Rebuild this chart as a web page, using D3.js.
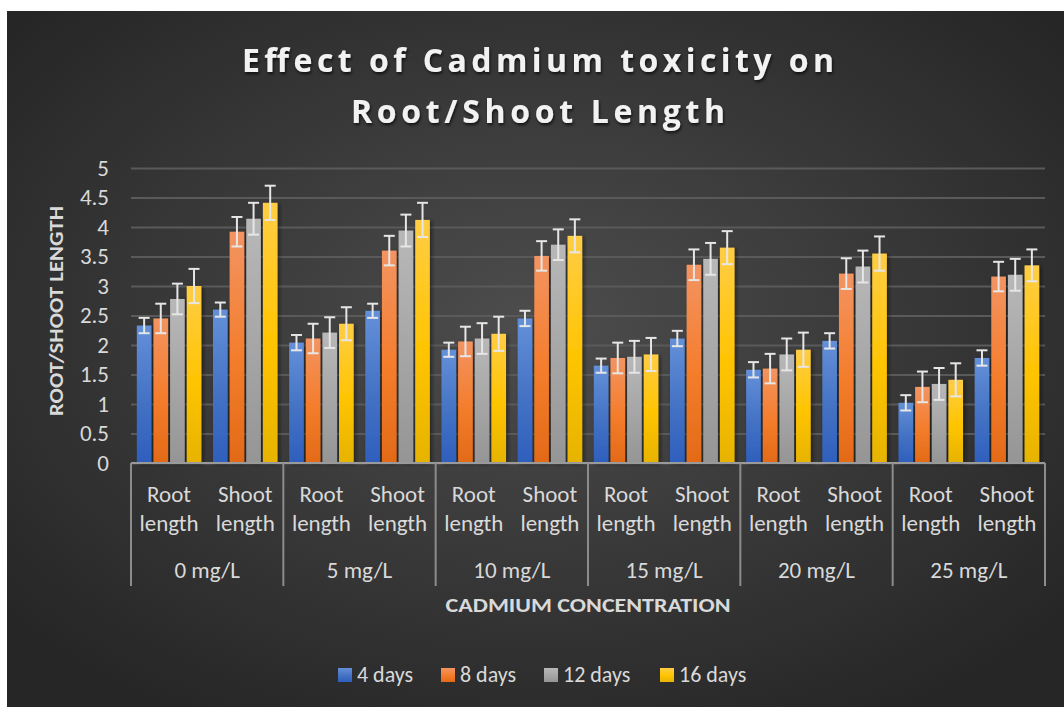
<!DOCTYPE html>
<html>
<head>
<meta charset="utf-8">
<script src="https://cdn.jsdelivr.net/npm/d3@7"></script>
<style>
  html, body { margin: 0; padding: 0; background: #ffffff; }
  svg { display: block; }
</style>
</head>
<body>
<svg id="chart"></svg>
<script>
// ---- data ----
const concentrations = ['0 mg/L', '5 mg/L', '10 mg/L', '15 mg/L', '20 mg/L', '25 mg/L']
const parts = ['Root length', 'Shoot length']
const seriesNames = ['4 days', '8 days', '12 days', '16 days']
const yTicks = [0, 0.5, 1, 1.5, 2, 2.5, 3, 3.5, 4, 4.5, 5]

// order: 0 root, 0 shoot, 5 root, 5 shoot, ...
const days4 = [2.33, 2.60, 2.04, 2.58, 1.92, 2.45, 1.65, 2.11, 1.58, 2.07, 1.02, 1.78]
const days8 = [2.45, 3.92, 2.11, 3.60, 2.06, 3.51, 1.78, 3.36, 1.60, 3.21, 1.29, 3.16]
const days12 = [2.78, 4.14, 2.21, 3.94, 2.11, 3.70, 1.80, 3.46, 1.84, 3.33, 1.34, 3.19]
const days16 = [3.00, 4.41, 2.36, 4.12, 2.19, 3.85, 1.84, 3.65, 1.92, 3.55, 1.41, 3.35]

const err4 = [0.13, 0.12, 0.13, 0.12, 0.12, 0.13, 0.12, 0.13, 0.13, 0.13, 0.13, 0.13]
const err8 = [0.25, 0.25, 0.25, 0.25, 0.25, 0.25, 0.26, 0.26, 0.25, 0.26, 0.26, 0.25]
const err12 = [0.26, 0.27, 0.26, 0.27, 0.26, 0.26, 0.27, 0.27, 0.27, 0.27, 0.27, 0.27]
const err16 = [0.29, 0.29, 0.28, 0.29, 0.29, 0.28, 0.28, 0.28, 0.29, 0.29, 0.28, 0.27]

const seriesValues = [days4, days8, days12, days16]
const seriesErrors = [err4, err8, err12, err16]

// ---- layout ----
const W = 1064
const H = 707
const plot = { left: 131, right: 1045, top: 168, bottom: 463 }
const font = 'Calibri, Carlito, Lato, sans-serif'
const titleFont = '"Open Sans", Lato, sans-serif'
const textColor = '#d9d9d9'

const colors = [
  ['#6490d9', '#4472c4', '#2e5fbd'],
  ['#f39462', '#f47d2c', '#e26a17'],
  ['#b8b8b8', '#a5a5a5', '#959595'],
  ['#ffcd45', '#ffc400', '#e6b300']
]

const svg = d3.select('#chart').attr('width', W).attr('height', H)
const defs = svg.append('defs')

const bg = defs.append('radialGradient').attr('id', 'bg')
  .attr('cx', '50%').attr('cy', '45%').attr('r', '65%')
bg.append('stop').attr('offset', '0%').attr('stop-color', '#4d4d4d')
bg.append('stop').attr('offset', '100%').attr('stop-color', '#262626')

colors.forEach((c, i) => {
  const g = defs.append('linearGradient').attr('id', 'bar' + i)
    .attr('x1', 0).attr('y1', 0).attr('x2', 0).attr('y2', 1)
  g.append('stop').attr('offset', '0%').attr('stop-color', c[0])
  g.append('stop').attr('offset', '55%').attr('stop-color', c[1])
  g.append('stop').attr('offset', '100%').attr('stop-color', c[2])
})

const shadow = defs.append('filter').attr('id', 'shadow')
  .attr('x', '-30%').attr('y', '-10%').attr('width', '160%').attr('height', '120%')
shadow.append('feDropShadow').attr('dx', 2).attr('dy', 1)
  .attr('stdDeviation', 2).attr('flood-color', '#000').attr('flood-opacity', 0.45)

const textShadow = defs.append('filter').attr('id', 'tshadow')
  .attr('x', '-10%').attr('y', '-30%').attr('width', '120%').attr('height', '160%')
textShadow.append('feDropShadow').attr('dx', 1).attr('dy', 2)
  .attr('stdDeviation', 1.5).attr('flood-color', '#000').attr('flood-opacity', 0.7)

// background panel (white strip top/left like the screenshot)
svg.append('rect').attr('x', 7).attr('y', 11).attr('width', W - 7).attr('height', H - 11)
  .attr('fill', 'url(#bg)')

// ---- scales ----
const keys = d3.range(concentrations.length * parts.length)
const x0 = d3.scaleBand().domain(keys).range([plot.left, plot.right])
const xGroup = d3.scaleBand().domain(concentrations).range([plot.left, plot.right])
const x1 = d3.scaleBand().domain(seriesNames).range([0, x0.bandwidth()])
  .paddingInner(0.12).paddingOuter(0.35)
const y = d3.scaleLinear().domain([0, 5]).range([plot.bottom, plot.top])

// ---- gridlines + y axis ----
const yAxis = svg.append('g').attr('class', 'axis y-axis')
  .attr('transform', 'translate(' + plot.left + ',0)')
  .call(d3.axisLeft(y).tickValues(yTicks).tickFormat(d => String(d))
    .tickSize(-(plot.right - plot.left)).tickPadding(22))
yAxis.select('.domain').remove()
yAxis.selectAll('.tick line').attr('stroke', '#5a5a5a').attr('stroke-width', 2)
yAxis.selectAll('.tick text').attr('fill', textColor)
  .attr('font-family', font).attr('font-size', 23)

// ---- bars ----
const barData = []
keys.forEach(k => {
  seriesNames.forEach((s, i) => {
    barData.push({ key: k, series: s, idx: i, value: seriesValues[i][k], err: seriesErrors[i][k] })
  })
})

svg.append('g').attr('class', 'bars')
  .selectAll('rect')
  .data(barData)
  .join('rect')
  .attr('x', d => x0(d.key) + x1(d.series))
  .attr('y', d => y(d.value))
  .attr('width', x1.bandwidth())
  .attr('height', d => y(0) - y(d.value))
  .attr('fill', d => 'url(#bar' + d.idx + ')')
  .attr('filter', 'url(#shadow)')

// ---- error bars ----
const errG = svg.append('g').attr('class', 'errors')
  .attr('stroke', '#e6e6e6').attr('stroke-width', 2).attr('fill', 'none')
const capW = 5.5
const eb = errG.selectAll('g').data(barData).join('g')
  .attr('transform', d => 'translate(' + (x0(d.key) + x1(d.series) + x1.bandwidth() / 2) + ',0)')
eb.append('line').attr('x1', 0).attr('x2', 0)
  .attr('y1', d => y(d.value + d.err)).attr('y2', d => y(d.value - d.err))
eb.append('line').attr('x1', -capW).attr('x2', capW)
  .attr('y1', d => y(d.value + d.err)).attr('y2', d => y(d.value + d.err))
eb.append('line').attr('x1', -capW).attr('x2', capW)
  .attr('y1', d => y(d.value - d.err)).attr('y2', d => y(d.value - d.err))

// ---- x axis (multi-level) ----
const xAxis = svg.append('g').attr('class', 'axis x-axis')
xAxis.append('line')
  .attr('x1', plot.left).attr('x2', plot.right)
  .attr('y1', plot.bottom).attr('y2', plot.bottom)
  .attr('stroke', '#9a9a9a').attr('stroke-width', 2)

const dividers = concentrations.map(c => xGroup(c)).concat([plot.right])
xAxis.selectAll('.divider').data(dividers).join('line')
  .attr('class', 'divider')
  .attr('x1', d => d).attr('x2', d => d)
  .attr('y1', plot.bottom).attr('y2', 586)
  .attr('stroke', '#8c8c8c').attr('stroke-width', 2)

const subLabels = xAxis.selectAll('.sub-label').data(keys).join('text')
  .attr('class', 'sub-label')
  .attr('x', d => x0(d) + x0.bandwidth() / 2)
  .attr('y', 502)
  .attr('text-anchor', 'middle')
  .attr('fill', textColor)
  .attr('font-family', font)
  .attr('font-size', 23)
subLabels.each(function(d) {
  const words = parts[d % parts.length].split(' ')
  const t = d3.select(this)
  t.append('tspan').attr('x', x0(d) + x0.bandwidth() / 2).text(words[0])
  t.append('tspan').attr('x', x0(d) + x0.bandwidth() / 2).attr('dy', 29).text(words[1])
})

xAxis.selectAll('.group-label').data(concentrations).join('text')
  .attr('class', 'group-label')
  .attr('x', d => xGroup(d) + xGroup.bandwidth() / 2)
  .attr('y', 578)
  .attr('text-anchor', 'middle')
  .attr('fill', textColor)
  .attr('font-family', font)
  .attr('font-size', 23)
  .text(d => d)

// ---- titles ----
const title = svg.append('g').attr('filter', 'url(#tshadow)')
title.append('text')
  .text('Effect of Cadmium toxicity on')
  .attr('x', 538).attr('y', 72)
  .attr('text-anchor', 'middle')
  .attr('fill', '#f2f2f2')
  .attr('font-family', titleFont)
  .attr('font-weight', 'bold')
  .attr('font-size', 32)
  .attr('textLength', 592)
  .attr('lengthAdjust', 'spacing')
title.append('text')
  .text('Root/Shoot Length')
  .attr('x', 538).attr('y', 123)
  .attr('text-anchor', 'middle')
  .attr('fill', '#f2f2f2')
  .attr('font-family', titleFont)
  .attr('font-weight', 'bold')
  .attr('font-size', 32)
  .attr('textLength', 374)
  .attr('lengthAdjust', 'spacing')

svg.append('text')
  .text('ROOT/SHOOT LENGTH')
  .attr('transform', 'translate(63,311) rotate(-90)')
  .attr('text-anchor', 'middle')
  .attr('fill', textColor)
  .attr('font-family', font)
  .attr('font-weight', 'bold')
  .attr('font-size', 20)
  .attr('textLength', 210)
  .attr('lengthAdjust', 'spacingAndGlyphs')

svg.append('text')
  .text('CADMIUM CONCENTRATION')
  .attr('x', 588).attr('y', 612)
  .attr('text-anchor', 'middle')
  .attr('fill', textColor)
  .attr('font-family', font)
  .attr('font-weight', 'bold')
  .attr('font-size', 20)
  .attr('textLength', 285)
  .attr('lengthAdjust', 'spacingAndGlyphs')

// ---- legend ----
const legendX = [338, 441, 544, 660]
const legend = svg.append('g').attr('class', 'legend')
  .selectAll('g').data(seriesNames).join('g')
  .attr('transform', (d, i) => 'translate(' + legendX[i] + ',668)')
legend.append('rect')
  .attr('width', 14).attr('height', 14)
  .attr('fill', (d, i) => 'url(#bar' + i + ')')
legend.append('text')
  .text(d => d)
  .attr('x', 19).attr('y', 14)
  .attr('fill', textColor)
  .attr('font-family', font)
  .attr('font-size', 22)
</script>
</body>
</html>
